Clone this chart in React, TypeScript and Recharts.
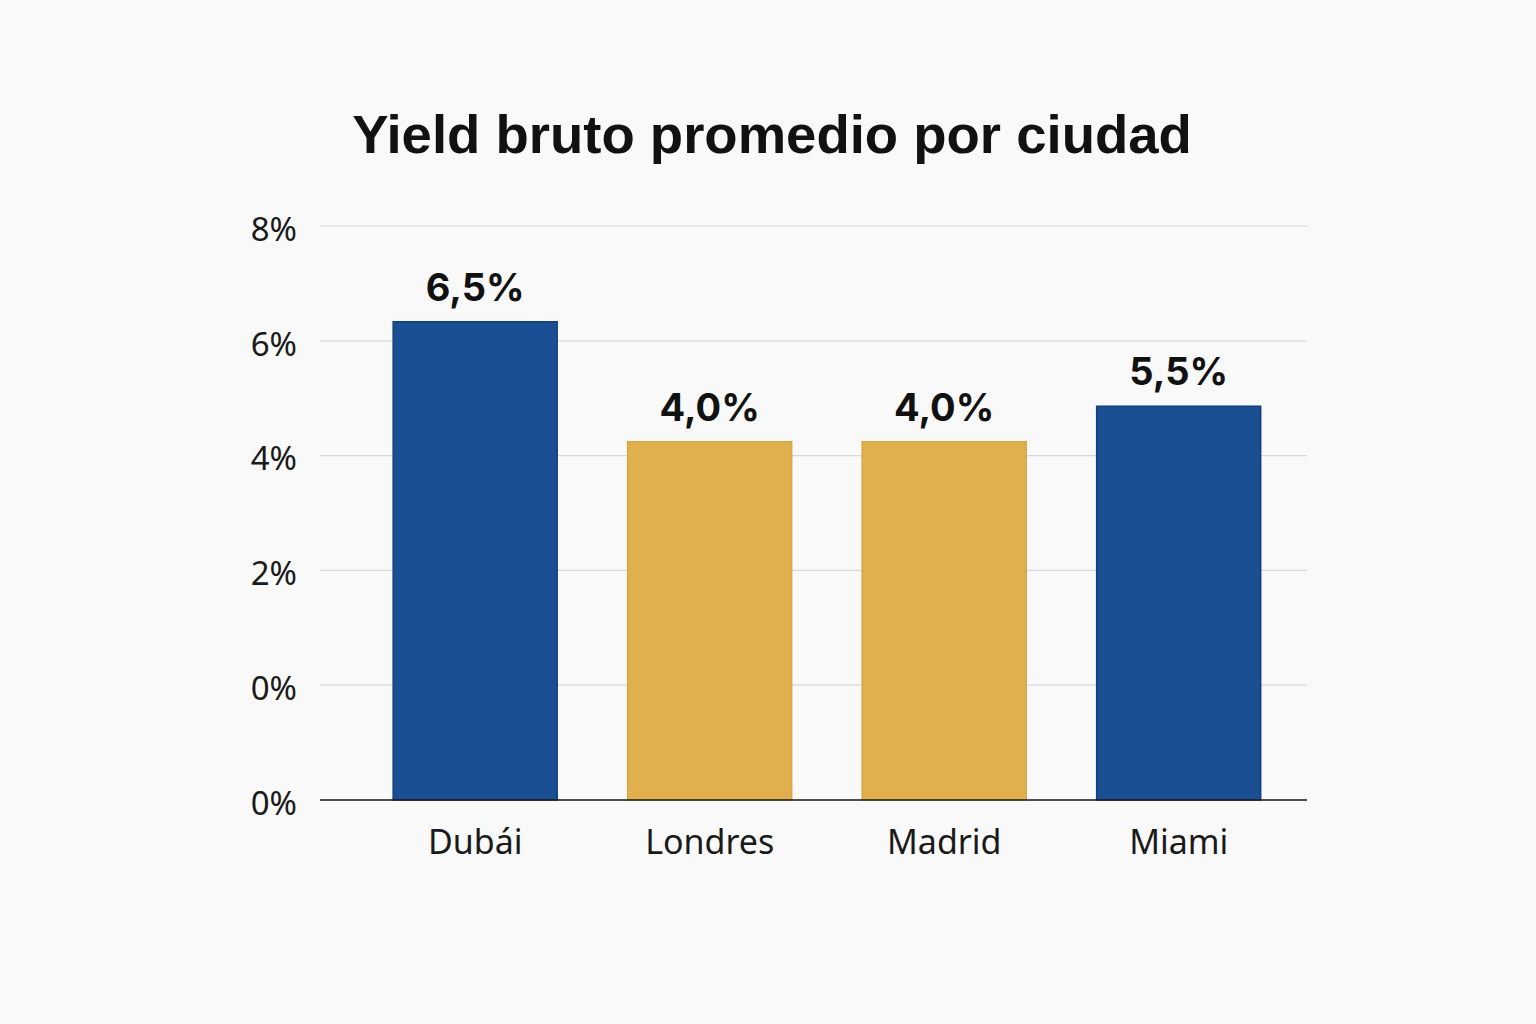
import React from "react";
import { BarChart, Bar, XAxis, YAxis, CartesianGrid, Cell, LabelList } from "recharts";

// Categories
const cities = ["Dubái", "Londres", "Madrid", "Miami"];
// Bar heights as drawn, in axis units (axis runs 0..10, one gridline per 2 units)
const barHeights = [8.33, 6.24, 6.24, 6.86];
// Value labels printed above the bars
const valueLabels = ["6,5%", "4,0%", "4,0%", "5,5%"];
// Y tick values and their printed labels (as in the reference)
const yTicks = [0, 2, 4, 6, 8, 10];
const yTickLabels = ["0%", "0%", "2%", "4%", "6%", "8%"];
// Fill per bar
const barFills = ["#1a4f94", "#e0b04f", "#e0b04f", "#1a4f94"];
const barStrokes = ["#143f7a", "#d9a640", "#d9a640", "#143f7a"];

const data = cities.map((c, i) => ({ city: c, value: barHeights[i], label: valueLabels[i] }));

export default function App() {
  return (
    <div
      style={{
        position: "absolute",
        left: 0,
        top: 0,
        width: 1536,
        height: 1024,
        background: "#f9f9f9",
        overflow: "hidden",
      }}
    >
      <div
        style={{
          position: "absolute",
          left: 0,
          top: 99,
          width: 1544,
          textAlign: "center",
          fontFamily: "'Liberation Sans', Arial, sans-serif",
          fontWeight: 700,
          fontSize: 54.5,
          lineHeight: "72px",
          color: "#111",
        }}
      >
        Yield bruto promedio por ciudad
      </div>
      <div style={{ position: "absolute", left: 0, top: 0 }}>
        <BarChart
          width={1536}
          height={1024}
          data={data}
          margin={{ top: 226, right: 229, bottom: 164, left: 0 }}
          barCategoryGap="15%"
        >
          <CartesianGrid horizontal vertical={false} stroke="#d8d8d8" strokeWidth={1.2} />
          <YAxis
            type="number"
            domain={[0, 10]}
            ticks={yTicks}
            width={320}
            axisLine={false}
            tickLine={false}
            tickSize={0}
            tickMargin={23}
            tickFormatter={(v: number, i: number) => yTickLabels[i]}
            tick={{ fill: "#1a1a1a", fontSize: 33, fontFamily: "'Noto Sans', 'Open Sans', sans-serif", dy: 3 }}
          />
          <XAxis
            dataKey="city"
            height={60}
            padding={{ left: 38, right: 11 }}
            axisLine={{ stroke: "#1a1a1a", strokeWidth: 1.5 }}
            tickLine={false}
            tickSize={0}
            tickMargin={30}
            tick={{ fill: "#1a1a1a", fontSize: 34, fontFamily: "'Noto Sans', 'Open Sans', sans-serif" }}
          />
          <Bar dataKey="value" isAnimationActive={false}>
            {data.map((d, i) => (
              <Cell key={d.city} fill={barFills[i]} stroke={barStrokes[i]} strokeWidth={1.5} />
            ))}
            <LabelList
              dataKey="label"
              position="top"
              offset={21}
              fill="#111"
              style={{ fontSize: 38, fontWeight: 700, fontFamily: "Inter, 'Liberation Sans', sans-serif" }}
            />
          </Bar>
        </BarChart>
      </div>
    </div>
  );
}
